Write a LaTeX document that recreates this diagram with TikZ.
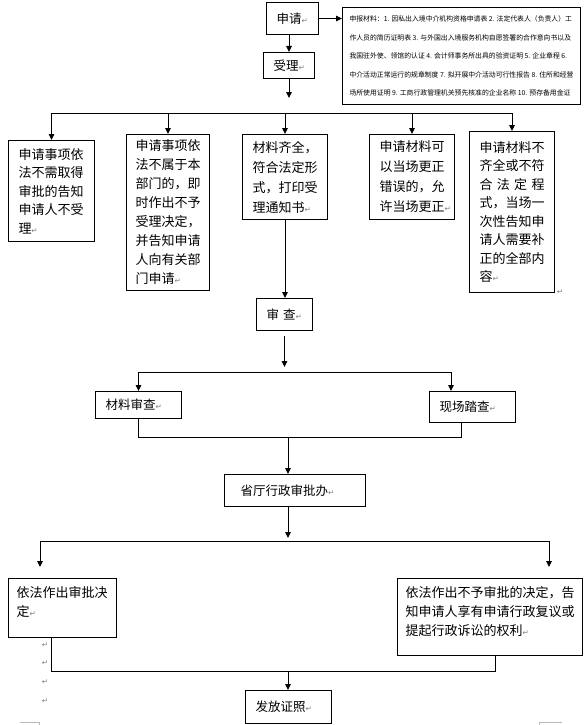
\documentclass[tikz,border=0pt]{standalone}
\usepackage{fontspec}
\setmainfont{Noto Sans CJK SC}
\newfontfamily\symfont{DejaVu Sans}
\usetikzlibrary{arrows.meta}
\newcommand\ret{{\symfont\fontsize{7.5}{7.5}\selectfont\color{black!50}↵}}
\tikzset{
  box/.style={draw, line width=1pt, anchor=north west, align=left, inner xsep=10pt, inner ysep=3pt, font=\fontsize{13}{19}\selectfont},
  one/.style={box, font=\fontsize{12.5}{15}\selectfont},
  arr/.style={line width=0.9pt, -{Triangle[length=6pt,width=5.5pt]}},
  ln/.style={line width=0.9pt},
}
\begin{document}
\begin{tikzpicture}[x=1pt, y=-1pt]
\useasboundingbox (0,0) rectangle (585,725);

% top
\node[one, minimum width=52pt, minimum height=32pt, text width=32pt] (sq) at (266,2) {申请\ret};
\node[one, minimum width=51pt, minimum height=26pt, text width=31pt] (sl) at (263,52) {受理\ret};
\node[box, inner xsep=7pt, minimum width=238pt, minimum height=97pt, font=\fontsize{6.85}{18.5}\selectfont] (cl) at (342,7)
  {申报材料：1. 因私出入境中介机构资格申请表 2. 法定代表人（负责人）工\\
   作人员的简历证明表 3. 与外国出入境服务机构自愿签署的合作意向书以及\\
   我国驻外使、领馆的认证 4. 会计师事务所出具的验资证明 5. 企业章程 6.\\
   中介活动正常运行的规章制度 7. 拟开展中介活动可行性报告 8. 住所和经营\\
   场所使用证明 9. 工商行政管理机关预先核准的企业名称 10. 预存备用金证};

% five cases
\node[box, minimum width=86pt, minimum height=101pt, text width=66pt, font=\fontsize{13}{18.5}\selectfont] (b1) at (8,140)
  {申请事项依\\法不需取得\\审批的告知\\申请人不受\\理\ret};
\node[box, inner xsep=9pt, minimum width=83pt, minimum height=156pt, text width=65pt] (b2) at (126,134)
  {申请事项依\\法不属于本\\部门的，即\\时作出不予\\受理决定，\\并告知申请\\人向有关部\\门申请\ret};
\node[box, minimum width=85pt, minimum height=85pt, text width=65pt, font=\fontsize{13}{20}\selectfont] (b3) at (242,134)
  {材料齐全，\\符合法定形\\式，打印受\\理通知书\ret};
\node[box, minimum width=85pt, minimum height=85pt, text width=65pt, font=\fontsize{13}{20}\selectfont] (b4) at (369,134)
  {申请材料可\\以当场更正\\错误的，允\\许当场更正\ret};
\node[box, minimum width=85pt, minimum height=161pt, text width=65pt, font=\fontsize{13}{18.5}\selectfont] (b5) at (469,131)
  {申请材料不\\齐全或不符\\\makebox[65pt]{合\hfill 法\hfill 定\hfill 程}\\式，当场一\\次性告知申\\请人需要补\\正的全部内\\容\ret};
\node (r0) at (560,292) {\ret};

% review
\node[one, minimum width=56pt, minimum height=32pt, text width=36pt] (sc) at (256,298) {审\hspace{4pt}查\ret};
\node[one, minimum width=86pt, minimum height=27pt, text width=66pt] (ml) at (95,391) {材料审查\ret};
\node[one, minimum width=86pt, minimum height=31pt, text width=66pt] (xc) at (429,391) {现场踏查\ret};
\node[one, inner xsep=16pt, minimum width=141pt, minimum height=32pt, text width=109pt] (sb) at (224,474) {省厅行政审批办\ret};

% decision
\node[box, inner xsep=8pt, inner ysep=4pt, text width=92pt, minimum width=108pt, text height=15pt, text depth=36pt] (ya) at (8,578)
  {依法作出审批决\\定\ret};
\node[box, inner xsep=8pt, inner ysep=4pt, text width=169pt, minimum width=185pt, text height=15pt, text depth=54pt] (yb) at (397,578)
  {依法作出不予审批的决定，告\\知申请人享有申请行政复议或\\提起行政诉讼的权利\ret};
\foreach \y [count=\i] in {645,663,682,701} \node (r\i) at (45,\y) {\ret};
\node[one, minimum width=86pt, minimum height=33pt, text width=66pt] (ff) at (245,690) {发放证照\ret};

% corner marks
\draw[gray!55, line width=0.8pt] (20,722) -- (39,722) -- (39,725);
\draw[gray!55, line width=0.8pt] (562,722) -- (539,722) -- (539,725);

% connectors
\draw[arr] (sq.east) -- (sq.east -| cl.west);
\draw[arr] (sq.south -| sl.north) -- (sl.north);
\draw[arr] (sl.south) -- ++(0,19) coordinate (t0);
\coordinate (fk1) at (285,113);
\draw[ln] (b1.north |- fk1) -- (b5.north |- fk1);
\foreach \b in {b1,b2,b3,b4,b5} \draw[arr] (\b.north |- fk1) -- (\b.north);
\draw[arr] (b3.south) -- (b3.south |- sc.north);

\coordinate (fk2) at (288,372);
\coordinate (fk2t) at (288,367);
\draw[arr] ([yshift=-5pt]sc.south) -- (sc.south |- fk2t);
\coordinate (xci) at ([xshift=22pt]xc.north west);
\draw[ln] (ml.north |- fk2) -- (xci |- fk2);
\draw[arr] (ml.north |- fk2) -- (ml.north);
\draw[arr] (xci |- fk2) -- (xci);
\coordinate (xco) at ([xshift=32pt]xc.south west);
\coordinate (jn1) at (288,437);
\draw[ln] (ml.south) -- (ml.south |- jn1) -- (xco |- jn1) -- (xco);
\draw[arr] (jn1) -- (jn1 |- sb.north);

\coordinate (fk3) at (288,541);
\coordinate (fk3t) at (288,538);
\draw[arr] (sb.south -| fk3) -- (fk3t);
\coordinate (yat) at ([xshift=32pt,yshift=11pt]ya.north west);
\coordinate (ybt) at ([xshift=152pt,yshift=11pt]yb.north west);
\draw[ln] (yat |- fk3) -- (ybt |- fk3);
\draw[arr] (yat |- fk3) -- (yat);
\draw[arr] (ybt |- fk3) -- (ybt);
\coordinate (yao) at ([xshift=43pt]ya.south west);
\coordinate (ybo) at ([xshift=98pt]yb.south west);
\coordinate (jn2) at (288,671);
\draw[ln] (yao) -- (yao |- jn2) -- (ybo |- jn2) -- (ybo);
\draw[arr] (jn2) -- (jn2 |- ff.north);
\end{tikzpicture}
\end{document}
